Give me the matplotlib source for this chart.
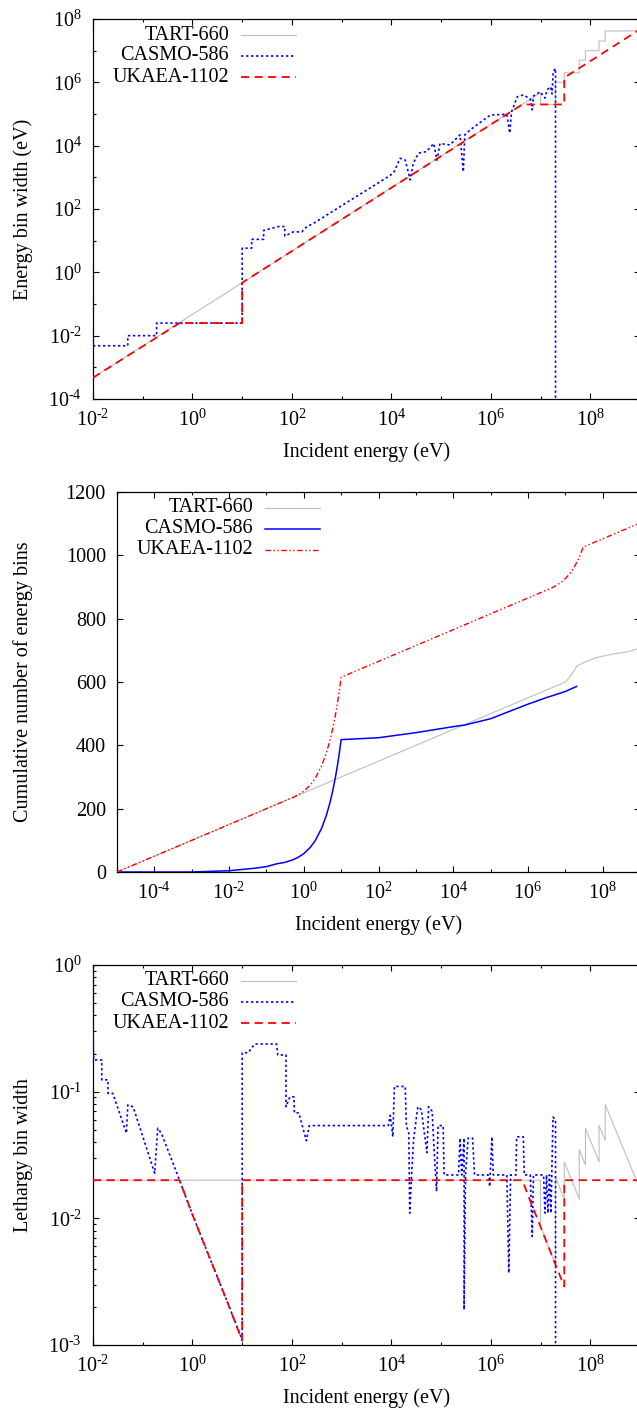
import matplotlib
matplotlib.use('Agg')
import numpy as np
import matplotlib.pyplot as plt
from matplotlib.lines import Line2D
from matplotlib.ticker import FixedLocator, FuncFormatter, NullFormatter, LogLocator

plt.rcParams['font.family'] = ['Liberation Serif', 'DejaVu Serif']
plt.rcParams['mathtext.fontset'] = 'custom'
plt.rcParams['mathtext.rm'] = 'Liberation Serif'
plt.rcParams['mathtext.it'] = 'Liberation Serif:italic'
plt.rcParams['font.size'] = 14.5

labels = ['TART-660', 'CASMO-586', 'UKAEA-1102']

# --- panel 1: energy bin width (eV) vs incident energy (eV)
tart_w_E = [1e-2, 1e7, 1e7, 2e7, 2e7, 3e7, 3e7, 6e7, 6e7, 8e7, 8e7, 1.5e8, 1.5e8, 2e8, 2e8, 1e9]
tart_w_W = [4.7e-4, 4.7e5, 2e5, 2e5, 1e6, 1e6, 2e6, 2e6, 5e6, 5e6, 1e7, 1e7, 2e7, 2e7, 4.2e7, 4.2e7]
casmo_w_E = [1e-2, 5e-2, 5e-2, 0.19, 0.19, 10, 10, 15.5, 15.5, 27, 27, 54, 72, 72, 107, 158, 200, 270,
             1.74e3, 5.9e3, 1.1e4, 1.5e4, 1.9e4, 2.4e4, 2.75e4, 3.5e4, 5.1e4, 7.1e4, 8.3e4, 9.5e4,
             1.5e5, 2.4e5, 2.8e5, 3.0e5, 3.9e5, 5.2e5, 9.8e5, 2.1e6, 2.4e6, 2.6e6, 3.4e6, 4.5e6,
             6.2e6, 6.8e6, 7.2e6, 9.8e6, 1.23e7, 1.35e7, 1.6e7, 1.7e7, 1.8e7, 2.0e7, 2.0e7]
casmo_w_W = [4.8e-3, 4.8e-3, 1.0e-2, 1.0e-2, 2.5e-2, 2.5e-2, 5.8, 5.8, 11, 11, 21, 28, 28, 14, 19, 19, 28, 35,
             219, 720, 1.35e3, 4.0e3, 3.5e3, 830, 2.75e3, 5.8e3, 6.5e3, 1.17e4, 3.5e3, 1.17e4,
             1.05e4, 2.2e4, 1.5e3, 2.2e4, 3.2e4, 4.5e4, 9.3e4, 9.8e4, 2.5e4, 1.15e5, 3.5e5, 4.0e5,
             3.0e5, 1.35e5, 3.7e5, 5.0e5, 3.2e5, 5.8e5, 7.2e5, 4.3e5, 2.2e6, 2.75e6, 1e-6]
ukaea_w_E = [1e-2, 0.55, 10, 10, 4.3e6, 3e7, 3e7, 1e9]
ukaea_w_W = [4.7e-4, 0.025, 0.025, 0.47, 2e5, 2e5, 1.4e6, 4.7e7]

# --- panel 2: cumulative number of energy bins
tart_n_E = [1e-5, 1e7, 1.25e7, 1.5e7, 1.75e7, 2e7, 3e7, 6e7, 8e7, 1.5e8, 2e8, 4e8, 6e8, 8e8, 1e9]
tart_n_N = [0, 600, 612, 625, 637, 650, 660, 675, 679, 686, 689, 694, 699, 704, 709]
casmo_n_E = [1e-5, 1e-3, 1e-2, 0.05, 0.1, 0.19, 0.3, 0.5, 0.7, 1, 1.5, 2, 3, 4, 5, 6, 7, 8, 9, 10,
             100, 1e3, 1e4, 2e4, 1e5, 1e6, 3e6, 1e7, 2e7]
casmo_n_N = [0, 0, 4, 12, 17, 26, 30, 38, 46, 58, 78, 98, 138, 178, 218, 258, 298, 338, 378, 418,
             424, 440, 459, 464, 484, 530, 550, 570, 586]
ukaea_n_E = [1e-5, 0.55, 0.7, 1, 1.5, 2, 3, 4, 5, 6, 7, 8, 9, 10, 4.5e6, 6e6, 8e6, 1e7, 1.5e7,
             2e7, 2.5e7, 3e7, 1e9]
ukaea_n_N = [0, 237, 243, 255, 275, 295, 335, 375, 415, 455, 495, 535, 575, 615, 898, 906, 916,
             926, 950, 976, 1000, 1026, 1102]

# --- panel 3: lethargy bin width
tart_l_E = [1e-2, 1e7, 1e7, 2e7, 2e7, 3e7, 3e7, 6e7, 6e7, 8e7, 8e7, 1.5e8, 1.5e8, 2e8, 2e8, 1e9]
tart_l_L = [0.02, 0.02, 0.0086, 0.0043, 0.0212, 0.0142, 0.028, 0.0142, 0.0348, 0.0263, 0.0512,
            0.028, 0.054, 0.0414, 0.079, 0.017]
casmo_l_E = [1.0e-2, 1.03e-2, 1.5e-2, 1.5e-2, 2.0e-2, 2.0e-2, 2.5e-2, 4.7e-2, 5.0e-2, 6.4e-2, 0.174,
             0.20, 0.237, 0.55, 1.0, 2.0, 5.0, 10, 10, 13.2, 17.8, 49, 52, 76, 76, 91, 110, 112, 138,
             195, 224, 8.7e3, 9.5e3, 1.07e4, 1.15e4, 1.9e4, 2.0e4, 2.24e4, 2.34e4, 2.57e4, 2.8e4,
             3.4e4, 4.0e4, 5.2e4, 5.6e4, 6.6e4, 7.2e4, 8.1e4, 8.7e4, 1.1e5, 1.15e5, 2.24e5, 2.4e5,
             2.6e5, 2.9e5, 2.9e5, 3.1e5, 3.5e5, 4.3e5, 4.7e5, 8.9e5, 9.5e5, 1.05e6, 1.12e6, 2.1e6,
             2.3e6, 2.5e6, 3.2e6, 3.3e6, 4.5e6, 4.7e6, 6.2e6, 6.8e6, 7.2e6, 1.15e7, 1.23e7, 1.32e7,
             1.41e7, 1.51e7, 1.62e7, 1.78e7, 2.0e7, 2.0e7]
casmo_l_L = [0.30, 0.178, 0.178, 0.124, 0.124, 0.097, 0.097, 0.047, 0.0786, 0.076, 0.0227,
             0.0514, 0.047, 0.020, 0.0107, 0.0054, 0.0022, 0.0011, 0.203, 0.203, 0.238, 0.238, 0.195,
             0.195, 0.076, 0.091, 0.091, 0.068, 0.068, 0.041, 0.054, 0.054, 0.065, 0.044, 0.11, 0.11,
             0.054, 0.047, 0.011, 0.023, 0.042, 0.076, 0.072, 0.033, 0.076, 0.070, 0.036, 0.0163,
             0.054, 0.054, 0.022, 0.022, 0.043, 0.022, 0.043, 0.0019, 0.022, 0.043, 0.043, 0.022,
             0.022, 0.0178, 0.044, 0.022, 0.022, 0.0037, 0.022, 0.022, 0.044, 0.044, 0.022, 0.022,
             0.0072, 0.022, 0.022, 0.011, 0.022, 0.011, 0.022, 0.011, 0.063, 0.060, 1e-4]
ukaea_l_E = [1e-2, 0.55, 1, 2, 5, 10, 10, 4.3e6, 6e6, 1e7, 2e7, 3e7, 3e7, 1e9]
ukaea_l_L = [0.02, 0.02, 0.0107, 0.0054, 0.0022, 0.00108, 0.02, 0.02, 0.0142, 0.0086, 0.0043,
             0.0029, 0.02, 0.02]

grey = '#bebebe'
sty_tart = dict(color=grey, lw=0.8, zorder=2)
sty_dot = dict(color='#0000ff', lw=1.2, ls=(0, (1.4, 1.6)), zorder=3)
sty_dash = dict(color='#ff0000', lw=1.3, ls=(0, (4.5, 3)), zorder=4)
sty_solid = dict(color='#0000ff', lw=1.1, zorder=3)
sty_dd = dict(color='#ff0000', lw=1.0, ls=(0, (4, 1.8, 1, 1.8, 1, 1.8)), zorder=4)

W, H = 637, 1408
fig = plt.figure(figsize=(W / 100, H / 100), dpi=100)


def axes_px(left, top, right, bottom):
    return fig.add_axes([left / W, 1 - bottom / H, (right - left) / W, (bottom - top) / H])


def dec_fmt(v, pos):
    return r'$10^{\text{%d}}$' % int(round(np.log10(v)))


def style_axes(ax):
    for s in ax.spines.values():
        s.set_linewidth(0.9)
    ax.tick_params(which='both', direction='in', top=True, right=True, width=0.8)
    ax.tick_params(which='major', length=4.5)
    ax.tick_params(which='minor', length=2.3)
    ax.tick_params(axis='x', pad=7.5)
    ax.tick_params(axis='y', pad=8)


def log_x(ax, lo, hi):
    ax.set_xscale('log')
    ax.set_xlim(10.0 ** lo, 10.0 ** hi)
    ax.xaxis.set_major_locator(FixedLocator([10.0 ** k for k in range(lo + (lo % 2), hi + 1, 2)]))
    ax.xaxis.set_minor_locator(FixedLocator([10.0 ** k for k in range(lo, hi + 1) if k % 2]))
    ax.xaxis.set_major_formatter(FuncFormatter(dec_fmt))
    ax.xaxis.set_minor_formatter(NullFormatter())


def key(ax, wpx, items):
    for i, (lab, kw) in enumerate(items):
        y = 1 - (16 + 21 * i) / 380
        ax.text(136 / wpx, y, lab, transform=ax.transAxes, ha='right', va='center')
        ax.add_line(Line2D([148 / wpx, 203 / wpx], [y, y], transform=ax.transAxes, **kw))


def labels_xy(ax, left_px, wpx, ylab):
    ax.set_xlabel('Incident energy (eV)')
    ax.xaxis.set_label_coords(0.5, -53 / 380)
    ax.xaxis.label.set_va('center')
    ax.set_ylabel(ylab)
    ax.yaxis.label.set_va('center')
    ax.yaxis.set_label_coords((23 - left_px) / wpx, 0.5)


# panel 1
ax1 = axes_px(93, 19, 640, 399)
ax1.plot(tart_w_E, tart_w_W, **sty_tart)
ax1.plot(casmo_w_E, casmo_w_W, **sty_dot)
ax1.plot(ukaea_w_E, ukaea_w_W, **sty_dash)
log_x(ax1, -2, 9)
ax1.set_yscale('log')
ax1.set_ylim(1e-4, 1e8)
ax1.yaxis.set_major_locator(FixedLocator([10.0 ** k for k in range(-4, 9, 2)]))
ax1.yaxis.set_minor_locator(FixedLocator([10.0 ** k for k in range(-3, 8, 2)]))
ax1.yaxis.set_major_formatter(FuncFormatter(dec_fmt))
ax1.yaxis.set_minor_formatter(NullFormatter())
style_axes(ax1)
labels_xy(ax1, 93, 547, 'Energy bin width (eV)')
key(ax1, 547, [(labels[0], sty_tart), (labels[1], sty_dot), (labels[2], sty_dash)])

# panel 2
ax2 = axes_px(117, 492, 640, 872)
ax2.plot(tart_n_E, tart_n_N, **sty_tart)
ax2.plot(casmo_n_E, casmo_n_N, **sty_solid)
ax2.plot(ukaea_n_E, ukaea_n_N, **sty_dd)
log_x(ax2, -5, 9)
ax2.set_ylim(0, 1200)
ax2.set_yticks(range(0, 1201, 200))
style_axes(ax2)
labels_xy(ax2, 117, 523, 'Cumulative number of energy bins')
key(ax2, 523, [(labels[0], sty_tart), (labels[1], sty_solid), (labels[2], sty_dd)])

# panel 3
ax3 = axes_px(93, 965, 640, 1345)
ax3.plot(tart_l_E, tart_l_L, **sty_tart)
ax3.plot(casmo_l_E, casmo_l_L, **sty_dot)
ax3.plot(ukaea_l_E, ukaea_l_L, **sty_dash)
log_x(ax3, -2, 9)
ax3.set_yscale('log')
ax3.set_ylim(1e-3, 1)
ax3.yaxis.set_major_locator(FixedLocator([1e-3, 1e-2, 1e-1, 1]))
ax3.yaxis.set_minor_locator(LogLocator(base=10, subs=np.arange(2, 10), numticks=20))
ax3.yaxis.set_major_formatter(FuncFormatter(dec_fmt))
ax3.yaxis.set_minor_formatter(NullFormatter())
style_axes(ax3)
labels_xy(ax3, 93, 547, 'Lethargy bin width')
key(ax3, 547, [(labels[0], sty_tart), (labels[1], sty_dot), (labels[2], sty_dash)])

fig.savefig('out.png', dpi=100)
